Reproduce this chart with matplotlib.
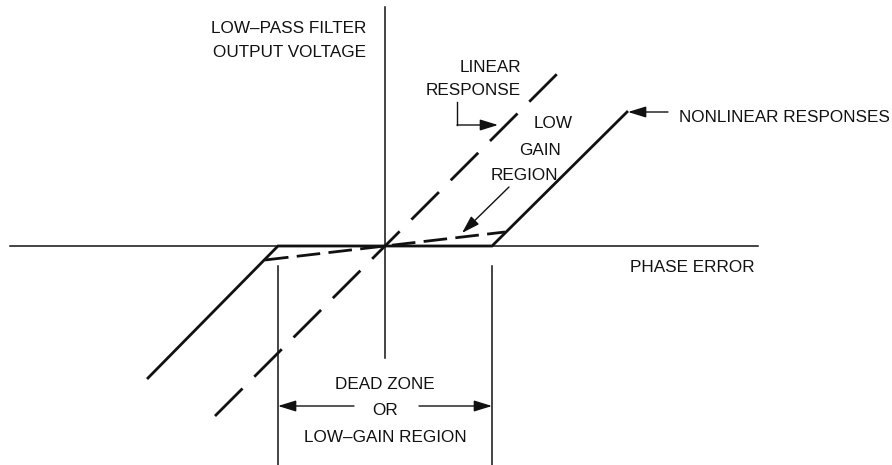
import matplotlib
matplotlib.use('Agg')
import matplotlib.pyplot as plt
from matplotlib import font_manager

plt.rcParams['lines.scale_dashes'] = False

# Diagram data: phase error (x) vs low-pass filter output voltage (y),
# origin at the axis crossing
DEAD_ZONE = 107

# Nonlinear response with dead zone (solid)
nonlin_x = [-237, -DEAD_ZONE, DEAD_ZONE, 242]
nonlin_y = [-132, 0, 0, 134]

# Nonlinear response with low-gain region (dashed)
lowgain_x = [-120, 0, 120]
lowgain_y = [-14, 0, 14]

# Linear response (dashed)
linear_x = [-170, 176]
linear_y = [-170, 176]

# Axis extents
phase_axis = [-375, 373]
voltage_axis = [-112, 239]

INK = '#111111'

# the original lettering is a condensed Helvetica; use the narrow face if present
names = {f.name for f in font_manager.fontManager.ttflist}
if 'Liberation Sans Narrow' in names:
    plt.rcParams['font.family'] = ['Liberation Sans Narrow', 'DejaVu Sans']
    FS = 14.0
else:
    plt.rcParams['font.family'] = ['Liberation Sans', 'DejaVu Sans']
    FS = 12.3


def main():
    fig = plt.figure(figsize=(8.92, 4.65), dpi=100)
    ax = fig.add_axes([0, 0, 1, 1])
    ax.set_xlim(-385, 507)
    ax.set_ylim(-219, 246)
    ax.axis('off')

    # axes
    ax.plot(phase_axis, [0, 0], color=INK, lw=1.1)
    ax.plot([0, 0], voltage_axis, color=INK, lw=1.1)

    # curves
    ax.plot(nonlin_x, nonlin_y, color=INK, lw=2.0, solid_joinstyle='miter')
    ax.plot(lowgain_x, lowgain_y, color=INK, lw=2.0, dashes=(17, 6))
    ax.plot(linear_x, linear_y, color=INK, lw=2.0, dashes=(28, 12),
            dash_capstyle='butt')

    # dead zone markers
    for x in (-DEAD_ZONE, DEAD_ZONE):
        ax.plot([x, x], [-20, -219], color=INK, lw=1.1)

    arrow = dict(arrowstyle='-|>,head_length=0.55,head_width=0.17',
                 mutation_scale=20, color=INK, lw=1.0, shrinkA=0, shrinkB=0)
    ax.annotate('', xy=(-DEAD_ZONE, -160), xytext=(-31, -160), arrowprops=arrow)
    ax.annotate('', xy=(DEAD_ZONE, -160), xytext=(34, -160), arrowprops=arrow)

    # linear response bent arrow
    ax.plot([72, 72], [144, 121], color=INK, lw=1.0)
    ax.annotate('', xy=(113, 121), xytext=(72, 121), arrowprops=arrow)
    # low gain arrow
    ax.annotate('', xy=(77, 13), xytext=(124, 59), arrowprops=arrow)
    # nonlinear arrow
    ax.annotate('', xy=(243, 134), xytext=(283, 134), arrowprops=arrow)

    txt = dict(fontsize=FS, color=INK, va='baseline')
    ax.text(-19, 213, 'LOW\u2013PASS FILTER', ha='right', **txt)
    ax.text(-19, 189, 'OUTPUT VOLTAGE', ha='right', **txt)
    ax.text(136, 174, 'LINEAR', ha='right', **txt)
    ax.text(136, 151, 'RESPONSE', ha='right', **txt)
    ax.text(168, 118, 'LOW', ha='center', **txt)
    ax.text(155, 91, 'GAIN', ha='center', **txt)
    ax.text(139, 66, 'REGION', ha='center', **txt)
    ax.text(294, 124, 'NONLINEAR RESPONSES', ha='left', **txt)
    ax.text(245, -26, 'PHASE ERROR', ha='left', **txt)
    ax.text(0, -143, 'DEAD ZONE', ha='center', **txt)
    ax.text(0, -169, 'OR', ha='center', **txt)
    ax.text(0, -196, 'LOW\u2013GAIN REGION', ha='center', **txt)

    fig.savefig('out.png', dpi=100, facecolor='white')


if __name__ == '__main__':
    main()
